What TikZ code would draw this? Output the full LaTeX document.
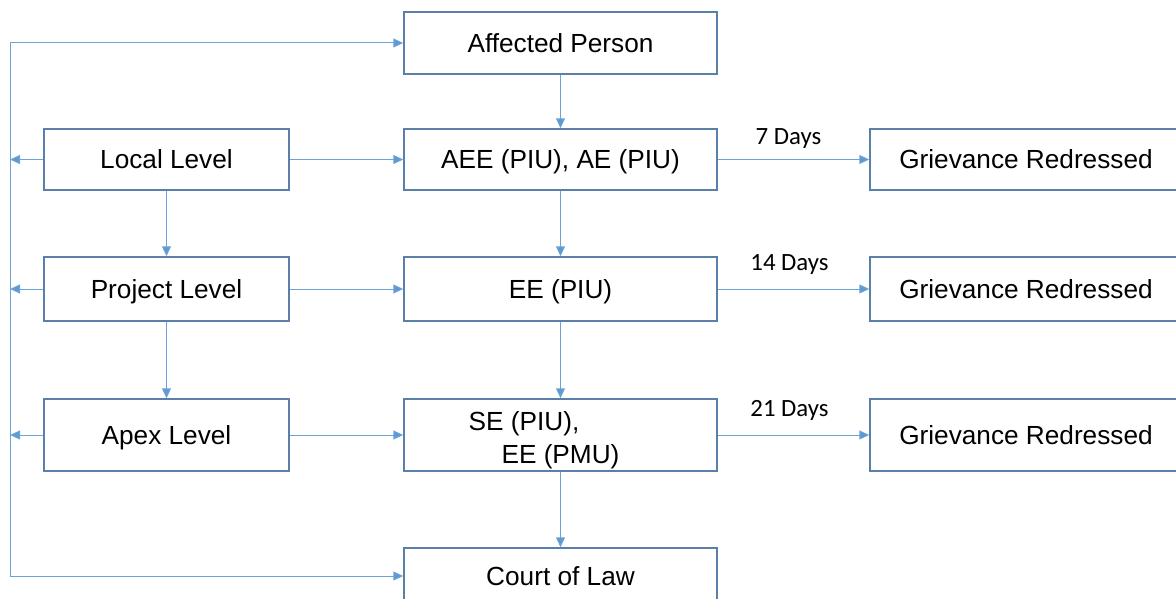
\documentclass[tikz,border=0pt]{standalone}
\usepackage{fontspec}
\setmainfont{Liberation Sans}
\newfontfamily\dayfont{Carlito}
\usetikzlibrary{arrows.meta}
\definecolor{boxline}{HTML}{5A7FA8}
\definecolor{flow}{HTML}{6FA3D8}
\definecolor{flowhead}{HTML}{5B9BD5}
\begin{document}
\begin{tikzpicture}[x=1pt,y=-1pt,
  box/.style={draw=boxline, line width=1.4pt, minimum width=313pt, inner sep=0pt,
    font=\fontsize{26.2}{33}\selectfont, text=black},
  oneline/.style={text height=18.8pt, text depth=0pt},
  side/.style={box, oneline, minimum width=245pt},
  result/.style={box, oneline, minimum width=320pt},
  conn/.style={draw=flow, line width=1pt, -{Triangle[length=10pt,width=9pt,fill=flowhead]}},
  plain/.style={draw=flow, line width=1pt},
  daylabel/.style={font=\dayfont\fontsize{24.8}{28}\selectfont, text=black, inner sep=0pt}]
\clip (0,0) rectangle (1176,599);

% middle column
\node[box, oneline, minimum height=62pt] (ap)    at (560.5,43)    {Affected Person};
\node[box, oneline, minimum height=61pt] (aee)   at (560.5,159.5) {AEE (PIU), AE (PIU)};
\node[box, oneline, minimum height=64pt] (ee)    at (560.5,289)   {EE (PIU)};
\node[box, minimum height=72pt, align=center] (se) at (560.5,435)
  {\rule{0pt}{30pt}SE (PIU),\hspace*{73pt}\\EE (PMU)};
\node[box, oneline, minimum height=56pt] (court) at (560.5,576)   {Court of Law};

% left column
\node[side, minimum height=61pt] (local)   at (166.5,159.5) {Local Level};
\node[side, minimum height=64pt] (project) at (166.5,289)   {Project Level};
\node[side, minimum height=72pt] (apex)    at (166.5,435)   {Apex Level};

% right column
\node[result, minimum height=61pt] (gr1) at (1030,159.5) {\hspace*{-8pt}Grievance Redressed};
\node[result, minimum height=64pt] (gr2) at (1030,289)   {\hspace*{-8pt}Grievance Redressed};
\node[result, minimum height=72pt] (gr3) at (1030,435)   {\hspace*{-8pt}Grievance Redressed};

% escalation rail on the left
\coordinate (lt) at (10,43);
\coordinate (lb) at (10,576);
\draw[plain] (lt) -- (lb);
\draw[conn] (lt) -- (ap.west);
\draw[conn] (lb) -- (court.west);
\draw[conn] (local.west) -- (local.west -| lt);
\draw[conn] (project.west) -- (project.west -| lt);
\draw[conn] (apex.west) -- (apex.west -| lt);

% vertical flow
\draw[conn] (ap) -- (aee);
\draw[conn] (aee) -- (ee);
\draw[conn] (ee) -- (se);
\draw[conn] (se) -- (court);
\draw[conn] (local) -- (project);
\draw[conn] (project) -- (apex);

% horizontal flow
\draw[conn] (local) -- (aee);
\draw[conn] (project) -- (ee);
\draw[conn] (apex) -- (se);
\draw[conn] (aee) -- node[daylabel, above=11pt, xshift=-5pt] {7 Days} (gr1);
\draw[conn] (ee) -- node[daylabel, above=14pt, xshift=-4pt] {14 Days} (gr2);
\draw[conn] (se) -- node[daylabel, above=14pt, xshift=-4pt] {21 Days} (gr3);
\end{tikzpicture}
\end{document}
